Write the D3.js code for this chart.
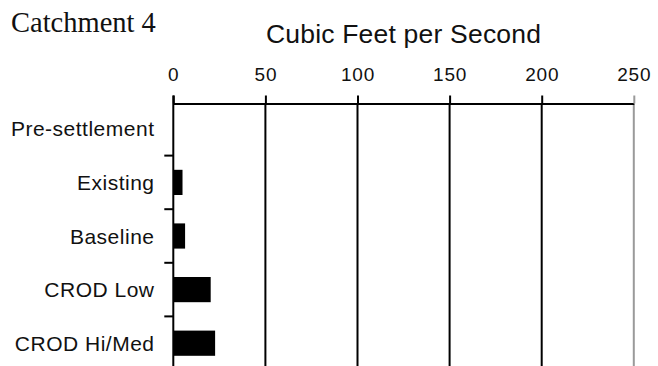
<!DOCTYPE html>
<html>
<head>
<meta charset="utf-8">
<script src="https://cdn.jsdelivr.net/npm/d3@7"></script>
<style>
  html, body { margin: 0; padding: 0; background: #fff; }
  svg { display: block; }
</style>
</head>
<body>
<svg id="chart" width="658" height="366"></svg>
<script>
// Peak flow by scenario, Catchment 4
const categories = ["Pre-settlement", "Existing", "Baseline", "CROD Low", "CROD Hi/Med"];
const flowCfs = [0, 5, 6.4, 20.3, 22.7];
const xTicks = [0, 50, 100, 150, 200, 250];
const chartTitle = "Catchment 4";
const axisTitle = "Cubic Feet per Second";

const W = 658, H = 366;
const axisY = 103.5;
const svg = d3.select("#chart");

const x = d3.scaleLinear().domain([0, 250]).range([173.3, 633.8]);
const y = d3.scaleBand().domain(categories).range([102, 370])
  .paddingInner(0.53).paddingOuter(0.265);

// Titles
svg.append("text")
  .attr("x", 11).attr("y", 32)
  .attr("font-family", "'Liberation Serif', 'Times New Roman', serif")
  .attr("font-size", 28.5)
  .attr("fill", "#111")
  .text(chartTitle);

svg.append("text")
  .attr("x", (x(0) + x(250)) / 2).attr("y", 42.5)
  .attr("text-anchor", "middle")
  .attr("font-family", "'Liberation Sans', Arial, sans-serif")
  .attr("font-size", 26.5)
  .attr("letter-spacing", 0.2)
  .attr("fill", "#111")
  .text(axisTitle);

// Vertical gridlines below the top axis
svg.append("g").selectAll("line")
  .data(xTicks.filter(d => d > 0))
  .join("line")
  .attr("x1", d => x(d)).attr("x2", d => x(d))
  .attr("y1", axisY).attr("y2", H)
  .attr("stroke", d => d === 250 ? "#9a9a9a" : "#000")
  .attr("stroke-width", 2);

// Top axis with ticks pointing up
const xAxis = svg.append("g")
  .attr("transform", `translate(0,${axisY})`)
  .call(d3.axisTop(x).tickValues(xTicks).tickSize(8).tickSizeOuter(0).tickPadding(15));
xAxis.select(".domain").attr("stroke", "#000").attr("stroke-width", 2);
xAxis.selectAll(".tick line").attr("stroke", d => d === 250 ? "#9a9a9a" : "#000").attr("stroke-width", 2);
xAxis.selectAll(".tick text")
  .attr("font-family", "'Liberation Sans', Arial, sans-serif")
  .attr("font-size", 19)
  .attr("letter-spacing", 0.8)
  .attr("fill", "#111");

// Bars
svg.append("g").selectAll("rect")
  .data(categories.map((c, i) => ({ c, v: flowCfs[i] })))
  .join("rect")
  .attr("x", x(0))
  .attr("y", d => y(d.c))
  .attr("width", d => x(d.v) - x(0))
  .attr("height", y.bandwidth())
  .attr("fill", "#000");

// Left axis line with ticks on category boundaries
const gap = y.step() * y.paddingInner() / 2;
const boundaries = categories.slice(1).map(c => y(c) - gap);
svg.append("line")
  .attr("x1", x(0)).attr("x2", x(0))
  .attr("y1", axisY - 8).attr("y2", H)
  .attr("stroke", "#000").attr("stroke-width", 2);
svg.append("g").selectAll("line")
  .data(boundaries)
  .join("line")
  .attr("x1", x(0) - 9).attr("x2", x(0))
  .attr("y1", d => d).attr("y2", d => d)
  .attr("stroke", "#000").attr("stroke-width", 2);

// Category labels
svg.append("g").selectAll("text")
  .data(categories)
  .join("text")
  .attr("x", 154.5)
  .attr("y", d => y(d) + y.bandwidth() / 2)
  .attr("dy", "0.36em")
  .attr("text-anchor", "end")
  .attr("font-family", "'Liberation Sans', Arial, sans-serif")
  .attr("font-size", 21)
  .attr("letter-spacing", 0.5)
  .attr("fill", "#111")
  .text(d => d);
</script>
</body>
</html>
